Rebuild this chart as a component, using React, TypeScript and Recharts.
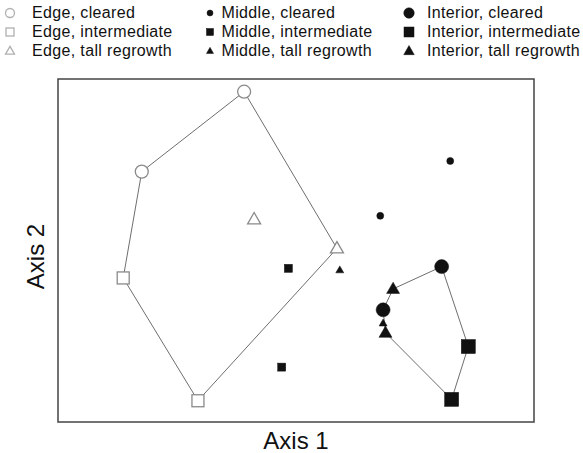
import React from 'react';
import { ScatterChart, Scatter, XAxis, YAxis, ReferenceArea } from 'recharts';

// ordination scores (arbitrary units, 0-100 on both axes)
const edgeCleared = [{ x: 39.1, y: 96.3 }, { x: 17.6, y: 73.0 }];
const edgeIntermediate = [{ x: 13.7, y: 42.0 }, { x: 29.4, y: 6.2 }];
const edgeTall = [{ x: 41.2, y: 59.1 }, { x: 58.6, y: 50.6 }];

const middleCleared = [{ x: 82.4, y: 76.1 }, { x: 67.7, y: 60.1 }];
const middleIntermediate = [{ x: 48.4, y: 44.8 }, { x: 47.0, y: 16.0 }];
const middleTall = [{ x: 59.2, y: 44.3 }, { x: 68.3, y: 28.8 }];

const interiorCleared = [{ x: 80.6, y: 45.3 }, { x: 68.3, y: 32.7 }];
const interiorIntermediate = [{ x: 86.2, y: 22.0 }, { x: 82.7, y: 6.6 }];
const interiorTall = [{ x: 70.4, y: 38.8 }, { x: 68.8, y: 26.0 }];

// convex hulls drawn round the edge and interior plots
const edgeHull = [edgeCleared[0], edgeTall[1], edgeIntermediate[1], edgeIntermediate[0], edgeCleared[1], edgeCleared[0]];
const interiorHull = [
  interiorCleared[0],
  interiorIntermediate[0],
  interiorIntermediate[1],
  interiorTall[1],
  interiorCleared[1],
  interiorTall[0],
  interiorCleared[0],
];

type Kind = 'circle' | 'square' | 'triangle';

const OPEN = '#8a8a8a';
const SOLID = '#111';

const Marker = ({ cx, cy, kind, size, filled, stroke }: { cx: number; cy: number; kind: Kind; size: number; filled: boolean; stroke?: string }) => {
  const fill = filled ? SOLID : '#fff';
  const st = filled ? SOLID : stroke || OPEN;
  const sw = filled ? 0.5 : 1.3;
  if (kind === 'circle') {
    return <circle cx={cx} cy={cy} r={size / 2} fill={fill} stroke={st} strokeWidth={sw} />;
  }
  if (kind === 'square') {
    return <rect x={cx - size / 2} y={cy - size / 2} width={size} height={size} fill={fill} stroke={st} strokeWidth={sw} />;
  }
  const h = size * 0.87;
  const pts = `${cx},${cy - h * 0.6} ${cx - size / 2},${cy + h * 0.4} ${cx + size / 2},${cy + h * 0.4}`;
  return <polygon points={pts} fill={fill} stroke={st} strokeWidth={sw} />;
};

const shape = (kind: Kind, size: number, filled: boolean) => (props: any) => {
  if (props.cx == null || props.cy == null) return <g />;
  return <Marker cx={props.cx} cy={props.cy} kind={kind} size={size} filled={filled} />;
};

const series = [
  { name: 'Edge, cleared', data: edgeCleared, kind: 'circle' as Kind, size: 13, filled: false, ls: 9 },
  { name: 'Edge, intermediate', data: edgeIntermediate, kind: 'square' as Kind, size: 12, filled: false, ls: 8 },
  { name: 'Edge, tall regrowth', data: edgeTall, kind: 'triangle' as Kind, size: 13, filled: false, ls: 9 },
  { name: 'Middle, cleared', data: middleCleared, kind: 'circle' as Kind, size: 7, filled: true, ls: 6 },
  { name: 'Middle, intermediate', data: middleIntermediate, kind: 'square' as Kind, size: 8, filled: true, ls: 7 },
  { name: 'Middle, tall regrowth', data: middleTall, kind: 'triangle' as Kind, size: 8, filled: true, ls: 7 },
  { name: 'Interior, cleared', data: interiorCleared, kind: 'circle' as Kind, size: 14, filled: true, ls: 10.5 },
  { name: 'Interior, intermediate', data: interiorIntermediate, kind: 'square' as Kind, size: 14, filled: true, ls: 10 },
  { name: 'Interior, tall regrowth', data: interiorTall, kind: 'triangle' as Kind, size: 13, filled: true, ls: 10.5 },
];

const legendCols = [{ mx: 10, tx: 32 }, { mx: 210, tx: 221.5 }, { mx: 409, tx: 427 }];
const legendRows = [13.3, 32, 50.5];

const TopLegend = () => (
  <div style={{ position: 'absolute', left: 0, top: 0, width: 583, height: 60, overflow: 'hidden' }}>
    {series.map((s, i) => {
      const col = legendCols[Math.floor(i / 3)];
      const cy = legendRows[i % 3];
      return (
        <React.Fragment key={s.name}>
          <svg style={{ position: 'absolute', left: col.mx - 8, top: cy - 8 }} width={16} height={16}>
            <Marker cx={8} cy={8} kind={s.kind} size={s.ls} filled={s.filled} stroke="#b0b0b0" />
          </svg>
          <span
            style={{
              position: 'absolute',
              left: col.tx,
              top: cy - 10,
              fontSize: 16,
              letterSpacing: 0.35,
              lineHeight: '20px',
              whiteSpace: 'nowrap',
              color: '#111',
            }}
          >
            {s.name}
          </span>
        </React.Fragment>
      );
    })}
  </div>
);

export default function App() {
  return (
    <div style={{ position: 'absolute', left: 0, top: 0, width: 583, height: 453, background: '#fff', fontFamily: '"Liberation Sans", Arial, sans-serif' }}>
      <TopLegend />
      <ScatterChart width={583} height={453} margin={{ top: 79, right: 49, bottom: 0, left: 0 }}>
        <XAxis
          type="number"
          dataKey="x"
          domain={[0, 100]}
          tick={false}
          tickLine={false}
          axisLine={false}
          height={31}
          label={{ value: 'Axis 1', position: 'insideBottom', offset: 4, fontSize: 24, fill: '#111' }}
        />
        <YAxis
          type="number"
          dataKey="y"
          domain={[0, 100]}
          tick={false}
          tickLine={false}
          axisLine={false}
          width={58}
          label={{ value: 'Axis 2', angle: -90, position: 'center', dx: 6, dy: 6, fontSize: 24, fill: '#111' }}
        />
        <ReferenceArea x1={0} x2={100} y1={0} y2={100} fill="none" stroke="#444" strokeWidth={1.5} ifOverflow="visible" />
        <Scatter data={edgeHull} line={{ stroke: '#6e6e6e', strokeWidth: 1 }} lineType="joint" shape={() => <g />} isAnimationActive={false} />
        <Scatter data={interiorHull} line={{ stroke: '#6e6e6e', strokeWidth: 1 }} lineType="joint" shape={() => <g />} isAnimationActive={false} />
        {series.map((s) => (
          <Scatter key={s.name} name={s.name} data={s.data} shape={shape(s.kind, s.size, s.filled)} isAnimationActive={false} />
        ))}
      </ScatterChart>
    </div>
  );
}
